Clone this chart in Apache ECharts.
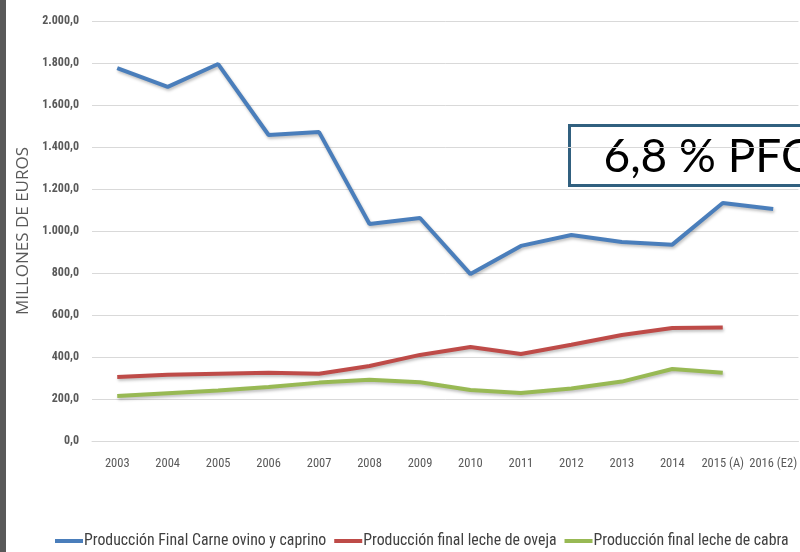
<!DOCTYPE html>
<html>
<head>
<meta charset="utf-8">
<script src="https://cdn.jsdelivr.net/npm/echarts@6/dist/echarts.min.js"></script>
<style>
  html, body { margin: 0; padding: 0; background: #fff; }
  #chart { width: 800px; height: 552px; }
</style>
</head>
<body>
<div id="chart"></div>
<script>
const years = ['2003', '2004', '2005', '2006', '2007', '2008', '2009', '2010', '2011', '2012', '2013', '2014', '2015 (A)', '2016 (E2)']
const carne = [1776, 1686, 1795, 1457, 1471, 1033, 1062, 795, 929, 981, 948, 935, 1133, 1105]
const lecheOveja = [305, 315, 320, 325, 320, 357, 410, 448, 414, 458, 505, 538, 541, null]
const lecheCabra = [214, 227, 240, 257, 278, 292, 280, 243, 229, 250, 283, 343, 325, null]
const seriesNames = [
  'Producción Final Carne ovino y caprino',
  'Producción final leche de oveja',
  'Producción final leche de cabra'
]

const narrow = '"Liberation Sans Narrow", "Roboto Condensed", "DejaVu Sans Condensed", sans-serif'

function fmtEs(v) {
  const parts = v.toFixed(1).split('.')
  const int = parts[0].replace(/\B(?=(\d{3})+(?!\d))/g, '.')
  return int + ',' + parts[1]
}

function lineSeries(name, data, color) {
  return {
    name,
    type: 'line',
    data,
    symbol: 'none',
    connectNulls: false,
    lineStyle: {
      width: 4,
      color,
      shadowColor: 'rgba(0,0,0,0.25)',
      shadowBlur: 3,
      shadowOffsetX: 1,
      shadowOffsetY: 2
    },
    itemStyle: { color }
  }
}

const chart = echarts.init(document.getElementById('chart'), null, { renderer: 'canvas' })
chart.setOption({
  backgroundColor: '#fff',
  animation: false,
  grid: { left: 92, top: 21, width: 710, height: 420, containLabel: false },
  legend: {
    top: 533,
    left: 55,
    width: 745,
    padding: 0,
    itemWidth: 28,
    itemHeight: 4,
    itemGap: 8,
    icon: 'rect',
    textStyle: { fontFamily: narrow, fontSize: 15.8, color: '#404040', padding: [0, 0, 0, -4] },
    data: seriesNames
  },
  xAxis: {
    type: 'category',
    data: years,
    boundaryGap: true,
    axisLine: { lineStyle: { color: '#d9d9d9', width: 1 } },
    axisTick: { show: false },
    axisLabel: { fontFamily: narrow, fontSize: 12.5, color: '#595959', margin: 16, interval: 0 }
  },
  yAxis: {
    type: 'value',
    min: 0,
    max: 2000,
    interval: 200,
    name: 'MILLONES DE EUROS',
    nameLocation: 'middle',
    nameGap: 47,
    nameTextStyle: { fontFamily: '"Open Sans", sans-serif', fontSize: 17, color: '#595959' },
    axisLine: { show: false },
    axisTick: { show: false },
    splitLine: { lineStyle: { color: '#d9d9d9', width: 1 } },
    axisLabel: {
      fontFamily: narrow,
      fontSize: 12,
      fontWeight: 'bold',
      color: '#595959',
      margin: 13,
      formatter: v => fmtEs(v)
    }
  },
  series: [
    lineSeries(seriesNames[0], carne, '#4A7EBB'),
    lineSeries(seriesNames[1], lecheOveja, '#BE4B48'),
    lineSeries(seriesNames[2], lecheCabra, '#98B954')
  ],
  graphic: [
    {
      type: 'rect',
      left: 0,
      top: 0,
      shape: { width: 6, height: 552 },
      style: { fill: '#595959' }
    },
    {
      type: 'group',
      left: 568,
      top: 124,
      children: [
        {
          type: 'rect',
          shape: { x: 0, y: 0, width: 260, height: 60 },
          style: { fill: '#fff', stroke: '#31607F', lineWidth: 3 }
        },
        {
          type: 'text',
          x: 34,
          y: 32,
          style: {
            text: '6,8 % PFO',
            fontFamily: '"Lato", "Open Sans", sans-serif',
            fontWeight: 400,
            fontSize: 46,
            fill: '#000',
            verticalAlign: 'middle'
          }
        }
      ]
    }
  ]
})
</script>
</body>
</html>
